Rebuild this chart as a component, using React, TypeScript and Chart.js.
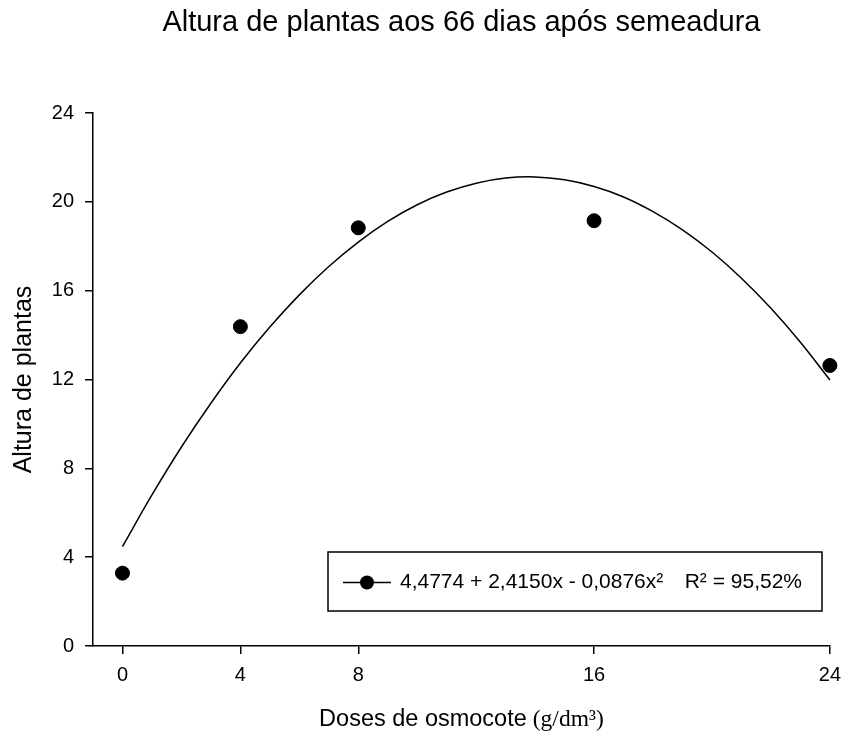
import React, { useEffect, useRef } from "react";
import { Chart, registerables } from "chart.js";

Chart.register(...registerables);

const doses = [0, 4, 8, 16, 24];
const alturas = [3.28, 14.38, 18.83, 19.15, 12.63];
const curveX = [0, 1, 2, 3, 4, 5, 6, 7, 8, 9, 10, 11, 12, 13, 14, 15, 16, 17, 18, 19, 20, 21, 22, 23, 24];
const curveY = [4.48, 6.8, 8.96, 10.93, 12.74, 14.36, 15.81, 17.09, 18.19, 19.12, 19.87, 20.44, 20.84, 21.07, 21.12, 20.99, 20.69, 20.22, 19.56, 18.74, 17.74, 16.56, 15.21, 13.68, 11.98];
const xTicks = [0, 4, 8, 16, 24];
const yTicks = [0, 4, 8, 12, 16, 20, 24];

const titleText = "Altura de plantas aos 66 dias após semeadura";
const yTitle = "Altura de plantas";
const xTitleSans = "Doses de osmocote";
const xTitleSerif = "(g/dm³)";
const legendEq = "4,4774 + 2,4150x - 0,0876x²";
const legendR2 = "R² = 95,52%";

const SANS = "'Liberation Sans', Arial, sans-serif";
const SERIF = "'Liberation Serif', 'Times New Roman', serif";

const textPlugin = {
  id: "texts",
  afterDraw(chart: any) {
    const ctx = chart.ctx as CanvasRenderingContext2D;
    const ca = chart.chartArea;
    const cx = (ca.left + ca.right) / 2;
    ctx.save();
    ctx.fillStyle = "#000";
    // title
    ctx.font = `29px ${SANS}`;
    ctx.textAlign = "center";
    ctx.textBaseline = "alphabetic";
    ctx.fillText(titleText, cx, 31);
    // y title
    ctx.save();
    ctx.translate(31, (ca.top + ca.bottom) / 2);
    ctx.rotate(-Math.PI / 2);
    ctx.font = `25px ${SANS}`;
    ctx.fillText(yTitle, 0, 0);
    ctx.restore();
    // x title
    ctx.font = `23.5px ${SANS}`;
    const w1 = ctx.measureText(xTitleSans).width;
    ctx.font = `23.5px ${SERIF}`;
    const w2 = ctx.measureText(xTitleSerif).width;
    const gap = 6;
    const startX = cx - (w1 + gap + w2) / 2;
    ctx.textAlign = "left";
    ctx.font = `23.5px ${SANS}`;
    ctx.fillText(xTitleSans, startX, 726);
    ctx.font = `23.5px ${SERIF}`;
    ctx.fillText(xTitleSerif, startX + w1 + gap, 726);
    // legend box
    const bx = 328, by = 552, bw = 494, bh = 59;
    ctx.fillStyle = "#fff";
    ctx.fillRect(bx, by, bw, bh);
    ctx.strokeStyle = "#000";
    ctx.lineWidth = 1.5;
    ctx.strokeRect(bx, by, bw, bh);
    const ly = by + bh / 2 + 1;
    ctx.beginPath();
    ctx.moveTo(343, ly);
    ctx.lineTo(391, ly);
    ctx.stroke();
    ctx.fillStyle = "#000";
    ctx.beginPath();
    ctx.arc(367, ly, 7, 0, Math.PI * 2);
    ctx.fill();
    ctx.font = `21px ${SANS}`;
    ctx.textAlign = "left";
    ctx.textBaseline = "middle";
    ctx.fillText(legendEq, 400, ly);
    ctx.textAlign = "right";
    ctx.fillText(legendR2, 802, ly);
    ctx.restore();
  },
};

export default function App() {
  const ref = useRef<HTMLCanvasElement>(null);
  useEffect(() => {
    document.body.style.margin = "0";
    const chart = new Chart(ref.current!, {
      type: "scatter",
      data: {
        datasets: [
          {
            type: "line",
            data: curveX.map((x, i) => ({ x, y: curveY[i] })),
            borderColor: "#000",
            borderWidth: 1.5,
            pointRadius: 0,
            tension: 0.4,
            fill: false,
            clip: false,
          } as any,
          {
            data: doses.map((x, i) => ({ x, y: alturas[i] })),
            backgroundColor: "#000",
            borderColor: "#000",
            pointRadius: 7,
            clip: false,
          } as any,
        ],
      },
      options: {
        responsive: false,
        animation: false,
        layout: { padding: { top: 113, right: 14, left: 0, bottom: 0 } },
        plugins: { legend: { display: false }, tooltip: { enabled: false }, title: { display: false } },
        scales: {
          x: {
            type: "linear",
            min: -1,
            max: 24,
            afterBuildTicks: (s: any) => {
              s.ticks = xTicks.map((v) => ({ value: v }));
            },
            afterFit: (s: any) => {
              s.height = 91;
            },
            grid: { display: true, drawOnChartArea: false, drawTicks: true, tickLength: 8, color: "#000", lineWidth: 1.5 },
            border: { display: true, color: "#000", width: 1.5 },
            ticks: { color: "#000", font: { family: SANS, size: 20 }, padding: 9, maxRotation: 0 },
          },
          y: {
            type: "linear",
            min: 0,
            max: 24,
            afterBuildTicks: (s: any) => {
              s.ticks = yTicks.map((v) => ({ value: v }));
            },
            afterFit: (s: any) => {
              s.width = 93;
            },
            grid: { display: true, drawOnChartArea: false, drawTicks: true, tickLength: 8, color: "#000", lineWidth: 1.5 },
            border: { display: true, color: "#000", width: 1.5 },
            ticks: { color: "#000", font: { family: SANS, size: 20 }, padding: 11 },
          },
        },
      },
      plugins: [textPlugin],
    });
    return () => chart.destroy();
  }, []);
  return <canvas ref={ref} width={850} height={737} style={{ display: "block" }} />;
}
